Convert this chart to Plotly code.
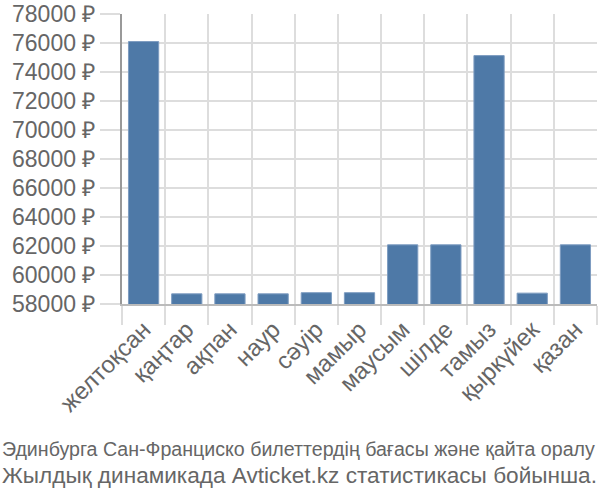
import plotly.graph_objects as go

months = ["желтоқсан", "қаңтар", "ақпан", "наур", "сәуір", "мамыр",
          "маусым", "шілде", "тамыз", "қыркүйек", "қазан"]
prices = [76100, 58700, 58700, 58700, 58780, 58780,
          62080, 62080, 75130, 58750, 62080]
y_ticks = list(range(58000, 78001, 2000))
y_labels = [f"{v} ₽" for v in y_ticks]
title_lines = ["Эдинбурга Сан-Франциско билеттердің бағасы және қайта оралу",
               "Жылдық динамикада Avticket.kz статистикасы бойынша."]

fig = go.Figure(go.Bar(
    x=months, y=prices, width=0.7,
    marker=dict(color="#4e79a7", line=dict(color="#7d9cc0", width=1)),
))

fig.update_layout(
    width=600, height=500,
    margin=dict(l=122, r=3, t=14, b=196, autoexpand=False),
    paper_bgcolor="white", plot_bgcolor="white",
    font=dict(family="Liberation Sans, Arial, sans-serif", color="#666666"),
    showlegend=False,
)
sizes = [19.6, 22.6]
for i, line in enumerate(title_lines):
    fig.add_annotation(text=line, xref="paper", yref="paper",
                       x=-122 / 475, y=-(449 - 304 + 27 * i) / 290,
                       xanchor="left", yanchor="middle", showarrow=False,
                       font=dict(family="Liberation Sans, Arial, sans-serif",
                                 size=sizes[i], color="#666666"))
fig.update_xaxes(
    type="category", tickson="boundaries", ticks="outside", ticklen=19,
    tickcolor="#dddddd", tickwidth=2, showgrid=True, gridcolor="#dddddd", gridwidth=2,
    tickangle=-45, tickfont=dict(size=24, color="#666666"), automargin=False,
    showline=True, linecolor="#bbbbbb", linewidth=2,
)
fig.update_yaxes(
    range=[58000, 78000], tickvals=y_ticks, ticktext=y_labels, ticks="outside", ticklen=20,
    tickcolor="#dddddd", tickwidth=2, showgrid=True, gridcolor="#dddddd", gridwidth=2,
    tickfont=dict(size=23, color="#666666"), automargin=False,
    showline=True, linecolor="#999999", linewidth=2, zeroline=False,
)
fig.write_html("out.html")
